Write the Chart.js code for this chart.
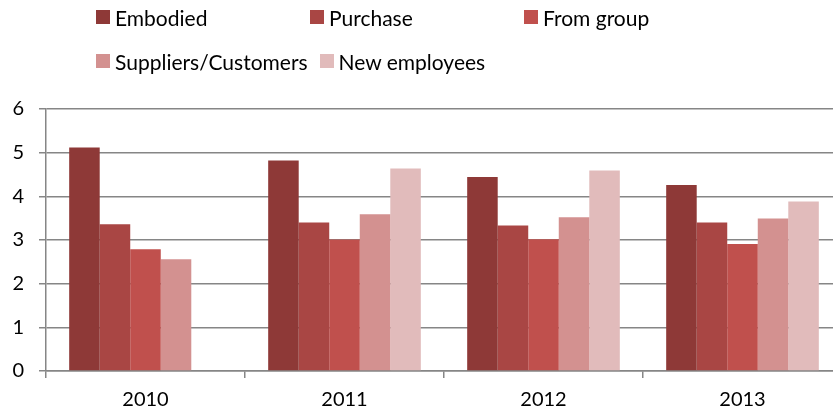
<!DOCTYPE html>
<html lang="en">
<head>
  <meta charset="UTF-8" />
  <title>Knowledge sources 2010-2013</title>
  <script src="https://cdn.jsdelivr.net/npm/chart.js@4.4.1/dist/chart.umd.min.js"></script>
  <style>
    * { box-sizing: border-box; margin: 0; padding: 0; }
    html, body { width: 833px; height: 414px; overflow: hidden; background: #fff; }
    body { position: relative; font-family: Lato, "Open Sans", sans-serif; }
    .chart-box { position: absolute; left: 0; top: 0; width: 842px; height: 414px; }
    #legend { position: absolute; left: 96px; top: -5px; font-size: 21px; color: #000; z-index: 2; }
    .legend-row { display: flex; height: 44px; align-items: center; }
    .legend-item { display: flex; align-items: center; white-space: nowrap; }
    .legend-row.first .legend-item { width: 214px; }
    .legend-row.second .legend-item { margin-right: 12px; }
    .swatch { width: 14px; height: 14px; margin-right: 5px; flex: none; }
  </style>
</head>
<body>
  <div id="legend"></div>
  <div class="chart-box">
    <canvas id="chart"></canvas>
  </div>

  <script>
    // years on the x axis
    const years = ['2010', '2011', '2012', '2013'];

    // one array per source
    const embodied = [5.12, 4.82, 4.44, 4.26];
    const purchase = [3.36, 3.40, 3.33, 3.40];
    const fromGroup = [2.79, 3.01, 3.02, 2.91];
    const suppliers = [2.56, 3.59, 3.52, 3.49];
    const newEmployees = [null, 4.64, 4.59, 3.88];

    const seriesNames = ['Embodied', 'Purchase', 'From group', 'Suppliers/Customers', 'New employees'];
    const seriesData = [embodied, purchase, fromGroup, suppliers, newEmployees];
    const seriesColors = ['#8e3937', '#a94644', '#c0504d', '#d39190', '#e1bbbb'];

    const yTicks = [0, 1, 2, 3, 4, 5, 6];

    // legend: first three in a fixed grid, the rest flow on the second row
    const legend = document.getElementById('legend');
    const rows = [seriesNames.slice(0, 3), seriesNames.slice(3)];
    rows.forEach((names, r) => {
      const row = document.createElement('div');
      row.className = 'legend-row ' + (r === 0 ? 'first' : 'second');
      names.forEach(name => {
        const idx = seriesNames.indexOf(name);
        const item = document.createElement('div');
        item.className = 'legend-item';
        item.innerHTML = `<span class="swatch" style="background:${seriesColors[idx]}"></span>${name}`;
        row.appendChild(item);
      });
      legend.appendChild(row);
    });

    const axisGrey = '#868686';
    const tickFont = { family: 'Lato, "Open Sans", sans-serif', size: 20 };

    new Chart(document.getElementById('chart'), {
      type: 'bar',
      data: {
        labels: years,
        datasets: seriesNames.map((name, i) => ({
          label: name,
          data: seriesData[i],
          backgroundColor: seriesColors[i],
          borderWidth: 0,
          categoryPercentage: 0.767,
          barPercentage: 1
        }))
      },
      options: {
        responsive: true,
        maintainAspectRatio: false,
        animation: false,
        layout: { padding: { top: 109, left: 0, right: 0, bottom: 0 } },
        plugins: {
          legend: { display: false },
          tooltip: { enabled: false }
        },
        scales: {
          x: {
            grid: {
              drawOnChartArea: false,
              color: axisGrey,
              tickLength: 7,
              lineWidth: 1.5
            },
            border: { color: axisGrey, width: 1.5 },
            ticks: { color: '#000', font: tickFont, padding: 10 },
            afterFit: (scale) => { scale.height = 43; }
          },
          y: {
            min: 0,
            max: 6,
            afterBuildTicks: (scale) => { scale.ticks = yTicks.map(v => ({ value: v })); },
            grid: {
              color: axisGrey,
              tickLength: 7,
              lineWidth: 1.5
            },
            border: { color: axisGrey, width: 1.5 },
            ticks: { color: '#000', font: tickFont, padding: 15 },
            afterFit: (scale) => { scale.width = 46; }
          }
        }
      }
    });
  </script>
</body>
</html>
